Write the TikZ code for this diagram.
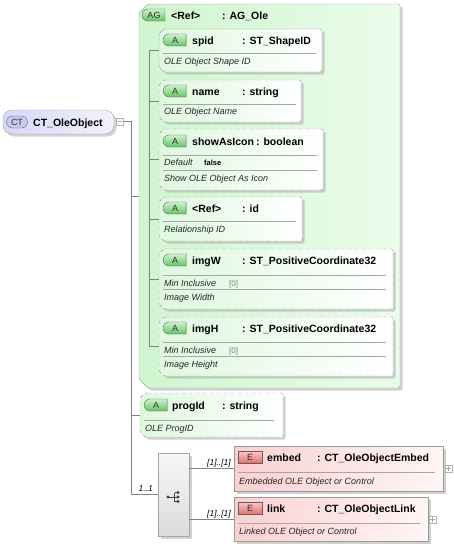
\documentclass[tikz,border=0pt]{standalone}
\usepackage{fontspec}
\setmainfont{Liberation Sans}
\usetikzlibrary{shapes.misc,shadows}
\definecolor{wiregray}{RGB}{130,130,130}
\definecolor{boxgray}{RGB}{165,165,165}
\definecolor{agfill}{RGB}{208,245,208}
\definecolor{agfillr}{RGB}{234,252,234}
\definecolor{attrfill}{RGB}{222,248,222}
\definecolor{badgetop}{RGB}{205,242,205}
\definecolor{badgebot}{RGB}{100,196,100}
\definecolor{elfill}{RGB}{250,208,208}
\definecolor{elfillr}{RGB}{255,246,246}
\definecolor{ebadgetop}{RGB}{252,200,200}
\definecolor{ebadgebot}{RGB}{228,112,112}
\definecolor{ctfill}{RGB}{216,216,248}
\definecolor{ctbadge}{RGB}{200,200,240}
% outline of a box with its two left corners cut off
\newcommand\chamfer[3]{%
  \path[#2] ([xshift=#3]#1.north west) -- (#1.north east) -- (#1.south east)
    -- ([xshift=#3]#1.south west) -- ([yshift=#3]#1.south west)
    -- ([yshift=-#3]#1.north west) -- cycle;}

\begin{document}
\begin{tikzpicture}[x=1pt,y=-1pt,
    hold/.style={inner sep=0pt, outer sep=0pt},
    shade/.style={drop shadow={shadow xshift=2.5pt, shadow yshift=-2.5pt, fill=gray!60, opacity=.6}},
    xbox/.style={hold, draw=boxgray, shade},
    grp/.style={draw=boxgray, shade, rounded corners=1.5pt, left color=agfill, right color=agfillr},
    attr/.style={draw=boxgray, shade, rounded corners=1.5pt, left color=attrfill, right color=white},
    opt/.style={attr, draw=gray!75, dash pattern=on 4pt off 3pt},
    elem/.style={xbox, draw=gray!80, left color=elfill, right color=elfillr},
    badge/.style={draw=gray!75!black, inner sep=0pt, minimum width=23pt, minimum height=12pt,
      font=\fontsize{9}{9}\selectfont, text=black!80},
    abadge/.style={badge, rounded rectangle, rounded rectangle right arc=none, top color=badgetop, bottom color=badgebot},
    ebadge/.style={badge, minimum width=24pt, top color=ebadgetop, bottom color=ebadgebot},
    ttl/.style={anchor=base west, inner sep=0pt, font=\fontsize{10.5}{12}\selectfont\bfseries},
    dsc/.style={anchor=base west, inner sep=0pt, font=\fontsize{9}{10}\selectfont\itshape, text=black!85},
    dflt/.style={anchor=base west, inner sep=0pt, font=\fontsize{7.5}{8}\selectfont\bfseries},
    facet/.style={anchor=base west, inner sep=0pt, font=\fontsize{8}{9}\selectfont, text=gray},
    mult/.style={anchor=base east, inner sep=0pt, font=\fontsize{8.5}{9}\selectfont\itshape},
    divider/.style={draw=gray!70},
    wire/.style={draw=wiregray},
    pm/.style={draw=gray!60, fill=white, inner sep=0pt, minimum size=7pt},
  ]
  \useasboundingbox (0,0) rectangle (453,549);

  % attribute group
  \node[hold, minimum width=261pt, minimum height=384pt] (ag) at (269.5,196) {};
  \chamfer{ag}{grp}{9pt}
  \node[abadge] (agb) at (154,15) {AG};
  \node[ttl] (agn) at (171,19) {<Ref>};
  \node[ttl] (agt) at (222,19) {: AG\_Ole};

  \node[hold, minimum width=163pt, minimum height=43pt] (spid) at (240.5,50.5) {};
  \chamfer{spid}{attr}{5pt}
  \node[abadge] (spidb) at (175,40) {A};
  \node[ttl] (spidn) at (192,44) {spid};
  \node[ttl] (spidt) at (242,44) {: ST\_ShapeID};
  \draw[divider] (163,53) -- (316,53);
  \node[dsc] (spidd) at (164,64) {OLE Object Shape ID};

  \node[hold, minimum width=142pt, minimum height=42pt] (name) at (230,101) {};
  \chamfer{name}{opt}{5pt}
  \node[abadge] (nameb) at (175,91) {A};
  \node[ttl] (namen) at (192,95) {name};
  \node[ttl] (namet) at (242,95) {: string};
  \draw[divider] (163,104) -- (296,104);
  \node[dsc] (named) at (164,114) {OLE Object Name};

  \node[hold, minimum width=164pt, minimum height=61pt] (show) at (241,159.5) {};
  \chamfer{show}{opt}{5pt}
  \node[abadge] (showb) at (175,141) {A};
  \node[ttl] (shown) at (192,145) {showAsIcon};
  \node[ttl] (showt) at (256,145) {: boolean};
  \draw[divider] (163,155) -- (317,155);
  \node[dsc] (showk) at (164,165) {Default};
  \node[dflt] (showv) at (204,165) {false};
  \draw[divider] (163,170) -- (317,170);
  \node[dsc] (showd) at (164,181) {Show OLE Object As Icon};

  \node[hold, minimum width=143pt, minimum height=44pt] (ref) at (230.5,219) {};
  \chamfer{ref}{opt}{5pt}
  \node[abadge] (refb) at (175,208) {A};
  \node[ttl] (refn) at (192,212) {<Ref>};
  \node[ttl] (reft) at (242,212) {: id};
  \draw[divider] (163,221) -- (296,221);
  \node[dsc] (refd) at (164,232) {Relationship ID};

  \node[hold, minimum width=234pt, minimum height=60pt] (imgW) at (276,279) {};
  \chamfer{imgW}{opt}{5pt}
  \node[abadge] (imgWb) at (175,260) {A};
  \node[ttl] (imgWn) at (192,264) {imgW};
  \node[ttl] (imgWt) at (242,264) {: ST\_PositiveCoordinate32};
  \draw[divider] (163,275) -- (386,275);
  \node[dsc] (imgWk) at (164,286) {Min Inclusive};
  \node[facet] (imgWv) at (229,286) {[0]};
  \draw[divider] (163,289) -- (386,289);
  \node[dsc] (imgWd) at (164,300) {Image Width};

  \node[hold, minimum width=234pt, minimum height=59pt] (imgH) at (276,346.5) {};
  \chamfer{imgH}{opt}{5pt}
  \node[abadge] (imgHb) at (175,328) {A};
  \node[ttl] (imgHn) at (192,332) {imgH};
  \node[ttl] (imgHt) at (242,332) {: ST\_PositiveCoordinate32};
  \draw[divider] (163,342) -- (386,342);
  \node[dsc] (imgHk) at (164,353) {Min Inclusive};
  \node[facet] (imgHv) at (229,353) {[0]};
  \draw[divider] (163,356) -- (386,356);
  \node[dsc] (imgHd) at (164,367) {Image Height};

  \draw[wire] ([xshift=-10pt]spid.west) -- ([xshift=-10pt]imgH.west);
  \foreach \n in {spid,name,show,ref,imgW,imgH}
    \draw[wire] (\n.west) -- ++(-10,0);

  % progId
  \node[hold, minimum width=143pt, minimum height=44pt] (prog) at (211.5,415) {};
  \chamfer{prog}{opt}{5pt}
  \node[abadge] (progb) at (156,405) {A};
  \node[ttl] (progn) at (172,409) {progId};
  \node[ttl] (progt) at (222,409) {: string};
  \draw[divider] (144,420) -- (274,420);
  \node[dsc] (progd) at (145,431) {OLE ProgID};

  % complex type
  \node[xbox, rounded corners=9pt, minimum width=111pt, minimum height=24pt,
    left color=ctfill, right color=ctfill!35] (ct) at (58.5,122) {};
  \node[badge, rounded rectangle, minimum width=21pt, minimum height=12pt, fill=ctbadge,
    draw=blue!25!gray] (ctb) at (17,122) {CT};
  \node[ttl] (ctn) at (33,126) {CT\_OleObject};
  \node[pm] (ctminus) at (120,121.5) {};
  \draw[gray!70] ([xshift=1.5pt]ctminus.west) -- ([xshift=-1.5pt]ctminus.east);

  % choice
  \node[xbox, draw=gray!70, top color=gray!6, bottom color=gray!28,
    minimum width=31pt, minimum height=83pt] (choice) at (173.5,494.5) {};
  \begin{scope}[shift={(173,497)}, black!75, line width=.8pt]
    \fill (-5,0) circle (1.7pt);
    \draw (-5,0) -- (1.5,0) (1.5,-4.5) -- (1.5,4.5);
    \foreach \d in {-4.5,0,4.5} {
      \draw (1.5,\d) -- (5,\d);
      \fill (5,\d) circle (1.7pt);
    }
  \end{scope}

  % elements
  \node[elem, minimum width=209pt, minimum height=45pt] (embed) at (338.5,468.5) {};
  \node[ebadge] (embedb) at (250,457) {E};
  \node[ttl] (embedn) at (267,461) {embed};
  \node[ttl] (embedt) at (317,461) {: CT\_OleObjectEmbed};
  \draw[divider] (238,472) -- (435,472);
  \node[dsc] (embedd) at (239,484) {Embedded OLE Object or Control};
  \node[pm] (embedplus) at (448.5,468.5) {};

  \node[elem, minimum width=194pt, minimum height=44pt] (link) at (331,519) {};
  \node[ebadge] (linkb) at (250,508) {E};
  \node[ttl] (linkn) at (267,512) {link};
  \node[ttl] (linkt) at (317,512) {: CT\_OleObjectLink};
  \draw[divider] (238,523) -- (420,523);
  \node[dsc] (linkd) at (239,534) {Linked OLE Object or Control};
  \node[pm] (linkplus) at (432.5,519.5) {};

  \foreach \p in {embedplus,linkplus} {
    \draw[gray!70] ([xshift=1.5pt]\p.west) -- ([xshift=-1.5pt]\p.east);
    \draw[gray!70] ([yshift=-1.5pt]\p.north) -- ([yshift=1.5pt]\p.south);
  }

  % connectors
  \coordinate (bus) at (131,494.5);
  \draw[wire] (ctminus.east) -| (bus) -- (choice.west);
  \draw[wire] (ag.west) -- (ag.west -| bus);
  \draw[wire] (prog.west) -- (prog.west -| bus);
  \draw[wire] (choice.east |- embed.west) -- (embed.west);
  \draw[wire] (choice.east |- link.west) -- (link.west);
  \node[mult] (m0) at (153,491) {1..1};
  \node[mult] (m1) at (231,465) {[1]..[1]};
  \node[mult] (m2) at (231,516) {[1]..[1]};
\end{tikzpicture}
\end{document}
